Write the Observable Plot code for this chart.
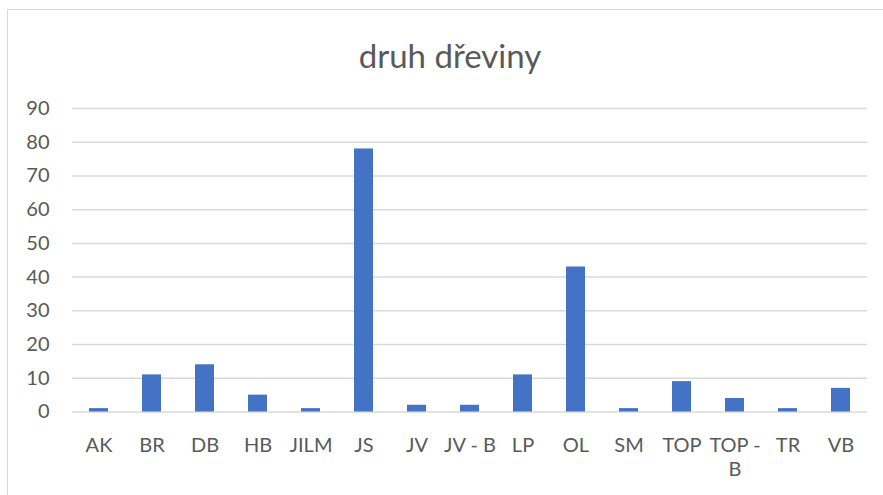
<!DOCTYPE html>
<html>
<head>
<meta charset="utf-8">
<script src="https://cdn.jsdelivr.net/npm/d3@7"></script>
<script src="https://cdn.jsdelivr.net/npm/@observablehq/plot@0.6"></script>
<style>
  html, body { margin: 0; padding: 0; background: #fff; overflow: hidden; }
  #frame { position: absolute; left: 7px; top: 9px; width: 900px; height: 500px;
           border-top: 1.5px solid #d9d9d9; border-left: 1.5px solid #d9d9d9; }
  #title { position: absolute; left: 0; top: 35px; width: 900px; text-align: center;
           font-family: Lato, "Open Sans", sans-serif; font-size: 33px; color: #595959; }
  #chart { position: absolute; left: 0; top: 90px; }
</style>
</head>
<body>
<div id="frame"></div>
<div id="title">druh dřeviny</div>
<div id="chart"></div>
<script>
const categories = ["AK", "BR", "DB", "HB", "JILM", "JS", "JV", "JV - B", "LP", "OL", "SM", "TOP", "TOP - B", "TR", "VB"];
const values = [1, 11, 14, 5, 1, 78, 2, 2, 11, 43, 1, 9, 4, 1, 7];
const yTicks = [0, 10, 20, 30, 40, 50, 60, 70, 80, 90];
const labelText = {"TOP - B": "TOP -\nB"};

const data = categories.map((c, i) => ({cat: c, value: values[i]}));

const plot = Plot.plot({
  width: 883,
  height: 405,
  marginTop: 18,
  marginBottom: 83.5,
  marginLeft: 72,
  marginRight: 16,
  style: { fontFamily: "Lato, 'Open Sans', sans-serif", fontSize: "20px", color: "#595959", background: "transparent" },
  x: { domain: categories, paddingInner: 0.65, paddingOuter: 0.325, align: 0.5, label: null },
  y: { domain: [0, 90], ticks: yTicks, label: null },
  marks: [
    Plot.gridY(yTicks, { stroke: "#d9d9d9", strokeOpacity: 1, strokeWidth: 1.5 }),
    Plot.barY(data, { x: "cat", y: "value", fill: "#4472c4" }),
    Plot.axisY({ ticks: yTicks, tickSize: 0, tickPadding: 23, label: null, fill: "#595959" }),
    Plot.axisX({ tickSize: 0, tickPadding: 23, label: null, fill: "#595959",
                 tickFormat: d => labelText[d] ?? d, lineHeight: 1.2 })
  ]
});
document.getElementById("chart").appendChild(plot);
</script>
</body>
</html>
